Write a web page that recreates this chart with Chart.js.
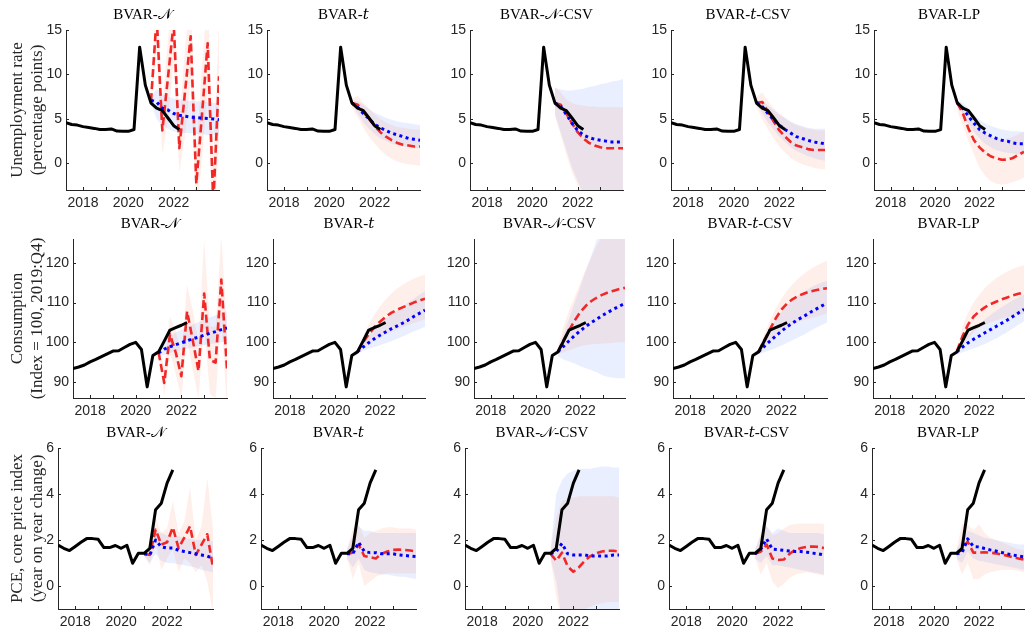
<!DOCTYPE html>
<html>
<head>
<meta charset="utf-8">
<script src="https://cdn.jsdelivr.net/npm/chart.js@4.4.1/dist/chart.umd.min.js"></script>
<style>
  body { margin: 0; background: #fff; }
  #wrap { position: relative; width: 1025px; height: 635px; overflow: hidden; }
  #wrap canvas { position: absolute; }
</style>
</head>
<body>
<div id="wrap"></div>
<script>
// quarters of the observed data and of the forecasts
const histQ = [2017.25, 2017.5, 2017.75, 2018, 2018.25, 2018.5, 2018.75, 2019, 2019.25, 2019.5, 2019.75, 2020, 2020.25, 2020.5, 2020.75, 2021, 2021.25, 2021.5, 2021.75, 2022, 2022.25];
const fcQ = [2021, 2021.25, 2021.5, 2021.75, 2022, 2022.25, 2022.5, 2022.75, 2023, 2023.25, 2023.5, 2023.75, 2024];
const yearTicks = [2018, 2019, 2020, 2021, 2022, 2023];

const models = ['BVAR-𝒩', 'BVAR-𝑡', 'BVAR-𝒩-CSV', 'BVAR-𝑡-CSV', 'BVAR-LP'];

// observed
const unHist = [4.57, 4.37, 4.30, 4.13, 4.03, 3.93, 3.80, 3.80, 3.87, 3.63, 3.60, 3.60, 3.80, 13.07, 8.80, 6.77, 6.20, 5.93, 5.10, 4.23, 3.80];
const coHist = [93.4, 93.8, 94.3, 95.1, 95.7, 96.4, 97.1, 97.8, 97.9, 98.7, 99.5, 100.0, 98.2, 88.8, 96.7, 97.6, 100.3, 103.1, 103.7, 104.3, 105.0];
const pcHist = [1.78, 1.64, 1.54, 1.72, 1.90, 2.06, 2.06, 2.03, 1.67, 1.67, 1.76, 1.64, 1.77, 0.99, 1.42, 1.42, 1.64, 3.32, 3.60, 4.47, 5.05];

// unemployment forecasts
const un_N_red = [7.0, 16.5, 3.7, 9.7, 15.8, 1.7, 8.0, 14.3, -2.3, 5.5, 13.5, -4.5, 9.8];
const un_N_redLo = [6.6, 12.5, 1.0, 5.0, 11.5, -1.0, 3.0, 9.5, -6.0, 0.5, 8.0, -9.0, 3.0];
const un_N_redHi = [7.4, 20.0, 6.5, 14.0, 20.0, 4.5, 13.0, 19.0, 1.5, 11.0, 19.0, 0.5, 16.0];
const un_N_blue = [7.1, 6.9, 6.2, 6.0, 5.6, 5.4, 5.3, 5.2, 5.15, 5.1, 5.05, 5.0, 4.9];
const un_N_blueLo = [6.7, 5.0, 4.2, 3.9, 3.6, 3.5, 3.4, 3.4, 3.3, 3.3, 3.2, 3.2, 3.1];
const un_N_blueHi = [7.5, 8.4, 7.8, 7.5, 7.3, 7.2, 7.1, 7.0, 7.0, 6.9, 6.9, 6.8, 6.8];

const un_t_red = [6.8, 6.6, 5.8, 5.0, 4.2, 3.5, 3.0, 2.6, 2.3, 2.1, 2.0, 1.9, 1.9];
const un_t_redLo = [6.2, 5.2, 4.0, 3.0, 2.2, 1.5, 0.9, 0.5, 0.2, 0.0, -0.1, -0.2, -0.3];
const un_t_redHi = [7.3, 7.6, 6.8, 6.2, 5.5, 5.0, 4.6, 4.3, 4.1, 4.0, 3.9, 3.8, 3.8];
const un_t_blue = [6.8, 6.3, 5.6, 5.0, 4.4, 4.0, 3.7, 3.4, 3.2, 3.0, 2.8, 2.7, 2.6];
const un_t_blueLo = [6.6, 5.6, 4.6, 3.9, 3.3, 2.8, 2.5, 2.2, 2.0, 1.9, 1.8, 1.7, 1.7];
const un_t_blueHi = [7.0, 7.0, 6.6, 6.1, 5.7, 5.4, 5.1, 4.9, 4.7, 4.6, 4.5, 4.4, 4.3];

const un_NCSV_red = [6.8, 6.6, 5.6, 4.5, 3.5, 2.8, 2.3, 2.0, 1.8, 1.7, 1.7, 1.7, 1.7];
const un_NCSV_redLo = [5.3, 3.2, 1.0, -1.0, -2.5, -4.0, -5.0, -5.5, -6.0, -6.0, -6.0, -6.0, -6.0];
const un_NCSV_redHi = [8.6, 8.0, 7.2, 6.8, 6.6, 6.5, 6.4, 6.4, 6.3, 6.3, 6.3, 6.3, 6.3];
const un_NCSV_blue = [6.8, 6.4, 5.5, 4.5, 3.7, 3.2, 2.9, 2.7, 2.6, 2.5, 2.4, 2.4, 2.4];
const un_NCSV_blueLo = [5.5, 3.5, 1.5, -0.5, -2.0, -3.5, -4.5, -5.0, -5.5, -6.0, -6.0, -6.0, -6.0];
const un_NCSV_blueHi = [8.5, 8.3, 8.2, 8.2, 8.3, 8.4, 8.6, 8.7, 8.9, 9.0, 9.2, 9.3, 9.5];

const un_tCSV_red = [6.8, 6.9, 5.8, 4.7, 3.7, 3.0, 2.4, 2.0, 1.8, 1.6, 1.5, 1.5, 1.5];
const un_tCSV_redLo = [6.3, 5.0, 3.8, 2.8, 1.9, 1.2, 0.6, 0.2, -0.1, -0.3, -0.5, -0.6, -0.7];
const un_tCSV_redHi = [7.5, 8.0, 7.0, 6.2, 5.6, 5.1, 4.6, 4.3, 4.1, 3.9, 3.8, 3.7, 3.7];
const un_tCSV_blue = [6.8, 6.4, 5.6, 4.9, 4.3, 3.8, 3.4, 3.0, 2.8, 2.6, 2.4, 2.3, 2.2];
const un_tCSV_blueLo = [6.5, 5.7, 4.6, 3.8, 3.0, 2.4, 1.8, 1.4, 1.1, 0.8, 0.6, 0.4, 0.3];
const un_tCSV_blueHi = [7.0, 7.0, 6.5, 6.0, 5.5, 5.1, 4.7, 4.4, 4.2, 4.0, 3.9, 3.9, 3.9];

const un_LP_red = [6.8, 5.6, 3.9, 2.6, 1.8, 1.2, 0.8, 0.55, 0.4, 0.42, 0.6, 0.95, 1.3];
const un_LP_redLo = [5.8, 4.2, 2.5, 1.0, -0.5, -1.4, -2.0, -2.3, -2.4, -2.3, -2.1, -1.9, -1.6];
const un_LP_redHi = [7.0, 6.5, 5.5, 4.6, 3.9, 3.4, 3.0, 2.8, 2.7, 2.8, 3.0, 3.3, 3.6];
const un_LP_blue = [6.8, 6.2, 5.3, 4.5, 3.8, 3.4, 3.1, 2.8, 2.6, 2.5, 2.3, 2.2, 2.2];
const un_LP_blueLo = [6.5, 5.5, 4.5, 3.5, 2.8, 2.2, 1.8, 1.5, 1.3, 1.2, 1.1, 1.0, 1.0];
const un_LP_blueHi = [7.0, 6.8, 6.2, 5.5, 4.9, 4.5, 4.2, 4.0, 3.8, 3.7, 3.6, 3.6, 3.5];

// consumption forecasts
const co_N_red = [97.5, 89.8, 102.0, 97.5, 91.5, 107.8, 100.5, 92.8, 112.3, 95.6, 94.9, 115.8, 93.2];
const co_N_redLo = [97.0, 86.5, 97.5, 92.0, 86.0, 101.0, 93.0, 86.0, 104.0, 87.0, 86.0, 106.0, 83.0];
const co_N_redHi = [98.0, 94.0, 106.5, 103.0, 97.0, 114.5, 108.0, 100.0, 126.0, 104.0, 104.0, 127.0, 103.0];
const co_N_blue = [97.3, 98.3, 98.9, 99.4, 99.9, 100.4, 100.9, 101.3, 101.8, 102.3, 102.7, 103.2, 103.6];
const co_N_blueLo = [96.5, 96.8, 97.3, 97.7, 98.0, 98.4, 98.7, 99.0, 99.3, 99.6, 99.8, 100.0, 100.2];
const co_N_blueHi = [98.5, 100.5, 101.5, 102.5, 103.2, 103.9, 104.5, 105.1, 105.7, 106.3, 106.8, 107.3, 107.8];

const co_t_red = [97.6, 100.0, 102.0, 103.8, 105.2, 106.4, 107.4, 108.2, 108.8, 109.4, 110.0, 110.5, 111.0];
const co_t_redLo = [97.2, 98.5, 99.5, 100.4, 101.2, 101.9, 102.6, 103.2, 103.8, 104.3, 104.8, 105.3, 105.8];
const co_t_redHi = [98.2, 101.5, 104.5, 107.0, 109.0, 110.8, 112.3, 113.5, 114.5, 115.3, 116.0, 116.6, 117.1];
const co_t_blue = [97.6, 98.8, 99.9, 100.9, 101.8, 102.6, 103.4, 104.1, 104.8, 105.6, 106.5, 107.3, 108.1];
const co_t_blueLo = [97.2, 97.8, 98.3, 98.8, 99.3, 99.8, 100.3, 100.9, 101.5, 102.1, 102.7, 103.3, 103.9];
const co_t_blueHi = [98.0, 100.0, 101.8, 103.3, 104.7, 105.9, 107.0, 108.0, 109.0, 110.0, 111.0, 112.0, 112.9];

const co_NCSV_red = [97.6, 100.5, 103.0, 105.5, 107.6, 109.2, 110.4, 111.3, 112.0, 112.6, 113.0, 113.4, 113.7];
const co_NCSV_redLo = [97.0, 97.5, 98.0, 98.5, 99.0, 99.3, 99.5, 99.6, 99.7, 99.8, 99.9, 100.0, 100.0];
const co_NCSV_redHi = [99.0, 104.0, 108.0, 111.5, 115.0, 118.5, 121.5, 124.5, 127.0, 129.0, 131.0, 133.0, 135.0];
const co_NCSV_blue = [97.6, 99.0, 100.4, 101.7, 102.9, 104.0, 105.0, 105.9, 106.8, 107.6, 108.4, 109.1, 109.8];
const co_NCSV_blueLo = [96.5, 95.7, 95.2, 94.7, 94.0, 93.5, 93.0, 92.4, 91.7, 91.3, 91.1, 91.0, 91.0];
const co_NCSV_blueHi = [98.5, 102.0, 106.0, 110.0, 114.0, 118.0, 122.0, 126.0, 129.0, 131.0, 133.0, 135.0, 137.0];

const co_tCSV_red = [97.6, 100.5, 103.3, 106.0, 108.2, 109.8, 110.9, 111.7, 112.3, 112.8, 113.1, 113.4, 113.6];
const co_tCSV_redLo = [97.0, 98.5, 100.0, 101.5, 102.7, 103.7, 104.5, 105.1, 105.6, 106.0, 106.4, 106.8, 107.2];
const co_tCSV_redHi = [98.2, 102.0, 105.5, 108.5, 111.0, 113.0, 114.7, 116.1, 117.3, 118.3, 119.2, 119.9, 120.5];
const co_tCSV_blue = [97.6, 99.0, 100.3, 101.6, 102.8, 103.9, 104.9, 105.8, 106.6, 107.5, 108.3, 109.1, 109.9];
const co_tCSV_blueLo = [97.0, 97.5, 98.0, 98.6, 99.2, 99.9, 100.6, 101.3, 102.0, 102.8, 103.6, 104.3, 105.0];
const co_tCSV_blueHi = [98.2, 101.0, 103.5, 105.7, 107.6, 109.2, 110.6, 111.8, 112.8, 113.7, 114.4, 115.0, 115.5];

const co_LP_red = [97.8, 101.5, 104.5, 106.5, 107.8, 108.8, 109.6, 110.2, 110.8, 111.3, 111.8, 112.2, 112.6];
const co_LP_redLo = [97.0, 99.0, 101.0, 102.5, 103.6, 104.4, 105.0, 105.5, 106.0, 106.3, 106.6, 106.9, 107.2];
const co_LP_redHi = [98.5, 104.0, 107.5, 110.0, 112.0, 113.7, 115.0, 116.1, 117.0, 117.8, 118.5, 119.0, 119.4];
const co_LP_blue = [97.6, 98.8, 99.9, 100.8, 101.6, 102.4, 103.2, 104.0, 104.8, 105.6, 106.5, 107.4, 108.3];
const co_LP_blueLo = [97.0, 97.5, 98.0, 98.5, 99.0, 99.6, 100.3, 101.0, 101.8, 102.6, 103.5, 104.4, 105.3];
const co_LP_blueHi = [98.2, 100.2, 101.9, 103.3, 104.6, 105.8, 106.9, 107.9, 108.8, 109.7, 110.6, 111.3, 112.0];

// core PCE inflation forecasts
const pc_N_red = [1.4, 1.35, 2.45, 1.8, 1.9, 2.55, 1.65, 2.1, 2.6, 1.35, 1.8, 2.25, 0.8];
const pc_N_redLo = [1.3, 0.9, 1.9, 0.7, 1.2, 1.6, 0.6, 1.2, 1.0, 0.6, 0.9, 0.2, -1.2];
const pc_N_redHi = [1.5, 1.6, 3.0, 2.3, 2.5, 3.7, 2.3, 2.8, 4.3, 2.0, 2.6, 4.7, 2.5];
const pc_N_blue = [1.4, 1.35, 2.0, 1.7, 1.65, 1.65, 1.55, 1.5, 1.45, 1.4, 1.35, 1.3, 1.2];
const pc_N_blueLo = [1.3, 1.0, 1.4, 1.1, 1.0, 1.0, 0.95, 0.9, 0.85, 0.8, 0.7, 0.65, 0.6];
const pc_N_blueHi = [1.5, 1.8, 2.4, 2.3, 2.2, 2.2, 2.15, 2.1, 2.05, 2.0, 2.0, 1.95, 1.95];

const pc_t_red = [1.4, 1.45, 1.8, 1.3, 1.25, 1.2, 1.4, 1.5, 1.57, 1.58, 1.57, 1.54, 1.5];
const pc_t_redLo = [1.2, 0.3, 1.0, 0.0, 0.2, 0.4, 0.5, 0.55, 0.55, 0.55, 0.55, 0.55, 0.55];
const pc_t_redHi = [1.6, 2.5, 2.7, 2.1, 2.3, 2.4, 2.5, 2.55, 2.55, 2.5, 2.5, 2.5, 2.45];
const pc_t_blue = [1.4, 1.4, 1.9, 1.5, 1.45, 1.45, 1.4, 1.4, 1.4, 1.35, 1.33, 1.3, 1.28];
const pc_t_blueLo = [1.2, 0.8, 1.2, 0.7, 0.6, 0.55, 0.5, 0.5, 0.45, 0.4, 0.4, 0.35, 0.3];
const pc_t_blueHi = [1.6, 2.2, 2.6, 2.4, 2.4, 2.3, 2.3, 2.3, 2.3, 2.3, 2.3, 2.3, 2.3];

const pc_NCSV_red = [1.4, 1.1, 1.45, 0.85, 0.62, 0.82, 1.1, 1.3, 1.42, 1.5, 1.53, 1.53, 1.5];
const pc_NCSV_redLo = [1.2, -0.5, -1.5, -1.5, -1.3, -1.1, -1.0, -0.9, -0.8, -0.75, -0.7, -0.7, -0.7];
const pc_NCSV_redHi = [1.6, 3.0, 3.7, 3.8, 3.85, 3.9, 3.9, 3.9, 3.9, 3.9, 3.9, 3.9, 3.85];
const pc_NCSV_blue = [1.4, 1.5, 1.85, 1.4, 1.35, 1.35, 1.35, 1.3, 1.3, 1.3, 1.3, 1.35, 1.35];
const pc_NCSV_blueLo = [1.2, 0.2, -1.5, -2.0, -2.0, -2.0, -2.0, -2.0, -2.0, -2.0, -2.0, -2.0, -2.0];
const pc_NCSV_blueHi = [1.6, 4.0, 4.6, 4.9, 5.0, 5.1, 5.1, 5.1, 5.15, 5.2, 5.2, 5.15, 5.15];

const pc_tCSV_red = [1.4, 1.5, 1.8, 1.2, 1.13, 1.15, 1.4, 1.57, 1.65, 1.7, 1.72, 1.7, 1.65];
const pc_tCSV_redLo = [1.2, 0.5, 1.0, 0.2, -0.1, 0.1, 0.35, 0.5, 0.55, 0.6, 0.55, 0.5, 0.45];
const pc_tCSV_redHi = [1.6, 2.3, 2.6, 2.2, 2.3, 2.5, 2.65, 2.7, 2.72, 2.72, 2.72, 2.72, 2.7];
const pc_tCSV_blue = [1.4, 1.6, 2.05, 1.6, 1.58, 1.55, 1.52, 1.5, 1.5, 1.47, 1.43, 1.4, 1.35];
const pc_tCSV_blueLo = [1.2, 1.0, 1.3, 0.9, 0.9, 0.85, 0.8, 0.75, 0.7, 0.65, 0.6, 0.55, 0.5];
const pc_tCSV_blueHi = [1.6, 2.2, 2.6, 2.3, 2.5, 2.4, 2.3, 2.3, 2.3, 2.3, 2.3, 2.3, 2.25];

const pc_LP_red = [1.4, 1.6, 1.93, 1.45, 1.45, 1.47, 1.45, 1.42, 1.37, 1.32, 1.25, 1.2, 1.15];
const pc_LP_redLo = [1.2, 0.5, 1.0, 0.3, 0.3, 0.5, 0.6, 0.65, 0.7, 0.7, 0.7, 0.65, 0.6];
const pc_LP_redHi = [1.6, 2.7, 2.7, 2.4, 2.7, 2.3, 2.1, 2.0, 1.9, 1.8, 1.7, 1.6, 1.55];
const pc_LP_blue = [1.4, 1.45, 2.05, 1.72, 1.7, 1.63, 1.57, 1.52, 1.46, 1.4, 1.35, 1.3, 1.27];
const pc_LP_blueLo = [1.2, 1.0, 1.5, 1.2, 1.1, 1.05, 1.0, 0.95, 0.9, 0.85, 0.8, 0.75, 0.7];
const pc_LP_blueHi = [1.6, 2.0, 2.4, 2.3, 2.2, 2.1, 2.05, 2.0, 1.95, 1.9, 1.85, 1.8, 1.8];

const rows = [
    { label: ['Unemployment rate', '(percentage points)'], min: -3, max: 15, ticks: [0, 5, 10, 15], hist: unHist,
      fc: [
        [un_N_red, un_N_redLo, un_N_redHi, un_N_blue, un_N_blueLo, un_N_blueHi],
        [un_t_red, un_t_redLo, un_t_redHi, un_t_blue, un_t_blueLo, un_t_blueHi],
        [un_NCSV_red, un_NCSV_redLo, un_NCSV_redHi, un_NCSV_blue, un_NCSV_blueLo, un_NCSV_blueHi],
        [un_tCSV_red, un_tCSV_redLo, un_tCSV_redHi, un_tCSV_blue, un_tCSV_blueLo, un_tCSV_blueHi],
        [un_LP_red, un_LP_redLo, un_LP_redHi, un_LP_blue, un_LP_blueLo, un_LP_blueHi]
      ] },
    { label: ['Consumption', '(Index = 100, 2019:Q4)'], min: 86, max: 126, ticks: [90, 100, 110, 120], hist: coHist,
      fc: [
        [co_N_red, co_N_redLo, co_N_redHi, co_N_blue, co_N_blueLo, co_N_blueHi],
        [co_t_red, co_t_redLo, co_t_redHi, co_t_blue, co_t_blueLo, co_t_blueHi],
        [co_NCSV_red, co_NCSV_redLo, co_NCSV_redHi, co_NCSV_blue, co_NCSV_blueLo, co_NCSV_blueHi],
        [co_tCSV_red, co_tCSV_redLo, co_tCSV_redHi, co_tCSV_blue, co_tCSV_blueLo, co_tCSV_blueHi],
        [co_LP_red, co_LP_redLo, co_LP_redHi, co_LP_blue, co_LP_blueLo, co_LP_blueHi]
      ] },
    { label: ['PCE, core price index', '(year on year change)'], min: -1, max: 6, ticks: [0, 2, 4, 6], hist: pcHist,
      fc: [
        [pc_N_red, pc_N_redLo, pc_N_redHi, pc_N_blue, pc_N_blueLo, pc_N_blueHi],
        [pc_t_red, pc_t_redLo, pc_t_redHi, pc_t_blue, pc_t_blueLo, pc_t_blueHi],
        [pc_NCSV_red, pc_NCSV_redLo, pc_NCSV_redHi, pc_NCSV_blue, pc_NCSV_blueLo, pc_NCSV_blueHi],
        [pc_tCSV_red, pc_tCSV_redLo, pc_tCSV_redHi, pc_tCSV_blue, pc_tCSV_blueLo, pc_tCSV_blueHi],
        [pc_LP_red, pc_LP_redLo, pc_LP_redHi, pc_LP_blue, pc_LP_blueLo, pc_LP_blueHi]
      ] }
];

// where each plot box sits on the page
const plotLefts = [[66, 267, 470, 671, 874], [73, 273, 474, 673, 873], [58, 261, 465, 669, 872]];
const plotWidths = [[153, 153, 153, 154, 150], [154, 152, 151, 154, 151], [155, 155, 154, 155, 152]];
const plotTops = [30, 239, 448];
const plotHeights = [160, 159, 161];

const axisColor = '#262626';
const sans = "'Liberation Sans', Arial, Helvetica, sans-serif";
const serif = "'Liberation Serif', 'Times New Roman', 'DejaVu Serif', serif";
const redLine = '#f02828';
const blueLine = '#0000ff';
const redFill = 'rgba(255, 120, 80, 0.12)';
const blueFill = 'rgba(70, 120, 255, 0.12)';

Chart.defaults.font.family = sans;
Chart.defaults.color = axisColor;

// MATLAB style ticks pointing into the plot box
const inwardTicks = {
    id: 'inwardTicks',
    afterDraw(chart) {
        const { ctx, chartArea: a, scales: { x, y } } = chart;
        ctx.save();
        ctx.strokeStyle = axisColor;
        ctx.lineWidth = 1;
        ctx.beginPath();
        x.ticks.forEach(t => {
            const px = Math.round(x.getPixelForValue(t.value)) + 0.5;
            ctx.moveTo(px, a.bottom);
            ctx.lineTo(px, a.bottom - 3);
        });
        y.ticks.forEach(t => {
            const py = Math.round(y.getPixelForValue(t.value)) + 0.5;
            ctx.moveTo(a.left, py);
            ctx.lineTo(a.left + 3, py);
        });
        ctx.stroke();
        ctx.restore();
    }
};

function pts(xs, ys) {
    return xs.map((x, i) => ({ x: x, y: ys[i] }));
}

function band(data, color, target, order) {
    return { data: data, borderWidth: 0, pointRadius: 0, backgroundColor: color, fill: target === null ? false : { target: target }, order: order };
}

const wrap = document.getElementById('wrap');

rows.forEach((row, r) => {
    models.forEach((model, c) => {
        const left = plotLefts[r][c];
        const w = plotWidths[r][c];
        const h = plotHeights[r];
        const yw = c === 0 ? left : 40;
        const padR = 1;

        const canvas = document.createElement('canvas');
        canvas.width = yw + w + padR;
        canvas.height = 30 + h + 28;
        canvas.style.left = (left - yw) + 'px';
        canvas.style.top = (plotTops[r] - 30) + 'px';
        wrap.appendChild(canvas);

        const [red, redLo, redHi, blue, blueLo, blueHi] = row.fc[c];

        new Chart(canvas.getContext('2d'), {
            type: 'line',
            data: {
                datasets: [
                    band(pts(fcQ, blueLo), blueFill, null, 6),
                    band(pts(fcQ, blueHi), blueFill, 0, 5),
                    band(pts(fcQ, redLo), redFill, null, 4),
                    band(pts(fcQ, redHi), redFill, 2, 3),
                    { data: pts(fcQ, red), borderColor: redLine, borderWidth: 2.6, borderDash: [8, 4], pointRadius: 0, fill: false, order: 2 },
                    { data: pts(fcQ, blue), borderColor: blueLine, borderWidth: 3, borderDash: [3, 3.5], pointRadius: 0, fill: false, order: 1 },
                    { data: pts(histQ, row.hist), borderColor: '#000', borderWidth: 3, pointRadius: 0, fill: false, order: 0 }
                ]
            },
            options: {
                responsive: false,
                animation: false,
                layout: { padding: { left: 0, right: padR, top: 0, bottom: 0 } },
                elements: { line: { tension: 0, borderJoinStyle: 'round' } },
                plugins: {
                    legend: { display: false },
                    tooltip: { enabled: false },
                    title: {
                        display: true,
                        text: model,
                        fullSize: false,
                        color: '#000',
                        font: { family: serif, size: 15, weight: 'normal', lineHeight: 1.2 },
                        padding: { top: 6, bottom: 6 }
                    }
                },
                scales: {
                    x: {
                        type: 'linear',
                        min: 2017.25,
                        max: 2024,
                        afterBuildTicks: s => { s.ticks = yearTicks.map(v => ({ value: v })); },
                        afterFit: s => { s.height = 28; },
                        grid: { display: false, drawTicks: false },
                        border: { display: true, color: axisColor, width: 1 },
                        ticks: {
                            autoSkip: false,
                            maxRotation: 0,
                            padding: 5,
                            font: { size: 14 },
                            color: axisColor,
                            callback: v => (v % 2 === 0 ? String(v) : '')
                        }
                    },
                    y: {
                        min: row.min,
                        max: row.max,
                        afterBuildTicks: s => { s.ticks = row.ticks.map(v => ({ value: v })); },
                        afterFit: s => { s.width = yw; },
                        grid: { display: false, drawTicks: false },
                        border: { display: true, color: axisColor, width: 1 },
                        ticks: { padding: 4, font: { size: 14 }, color: axisColor },
                        title: {
                            display: c === 0,
                            text: row.label,
                            color: axisColor,
                            font: { family: serif, size: 17, lineHeight: 1.2 },
                            padding: { top: 7, bottom: 0 }
                        }
                    }
                }
            },
            plugins: [inwardTicks]
        });
    });
});
</script>
</body>
</html>
